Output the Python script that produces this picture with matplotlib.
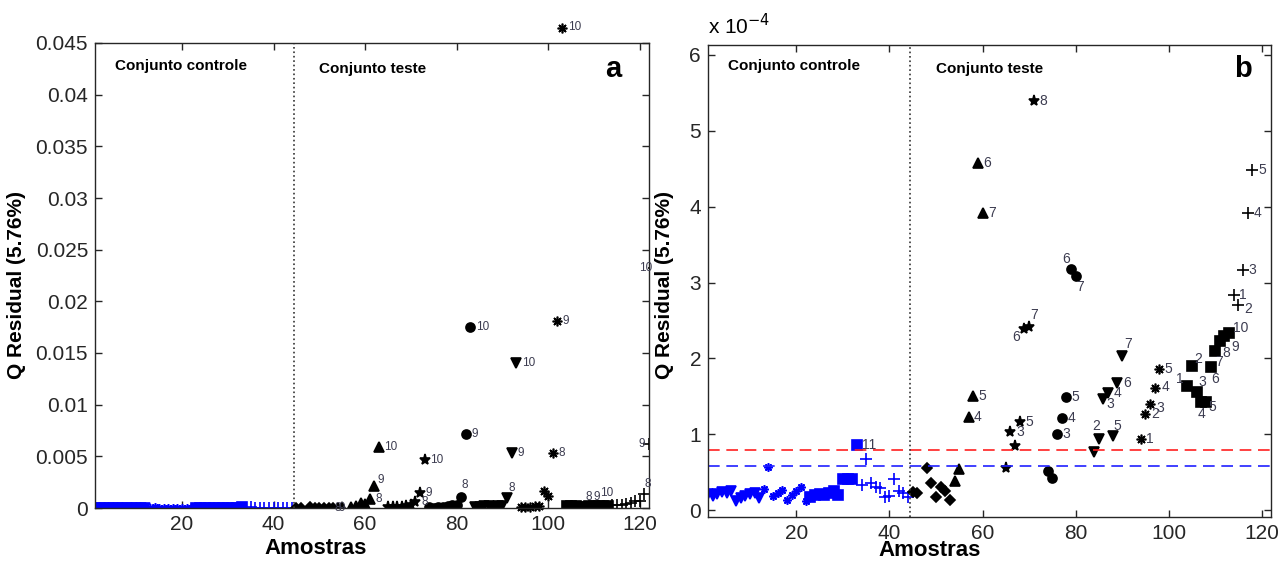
import numpy as np
import matplotlib.pyplot as plt

plt.rcParams['font.family'] = ['Liberation Sans', 'DejaVu Sans']

# Q residual values are kept in units of 1e-4
# conjunto controle (blue)
ctrl_tri_x = [1, 2, 3, 4, 5, 6, 7, 8, 9, 10, 11, 12]
ctrl_tri_q = [0.21, 0.19, 0.21, 0.24, 0.23, 0.25, 0.12, 0.16, 0.19, 0.21, 0.23, 0.16]
ctrl_ast_x = [13, 14, 15, 16, 17, 18, 19, 20, 21, 22]
ctrl_ast_q = [0.28, 0.57, 0.19, 0.23, 0.27, 0.14, 0.20, 0.25, 0.30, 0.12]
ctrl_sq_x = [23, 24, 25, 26, 27, 28, 29, 30, 31, 32, 33]
ctrl_sq_q = [0.18, 0.20, 0.21, 0.20, 0.23, 0.25, 0.20, 0.41, 0.41, 0.41, 0.86]
ctrl_plus_x = [34, 35, 36, 37, 38, 39, 40, 41, 42, 43, 44]
ctrl_plus_q = [0.33, 0.67, 0.36, 0.31, 0.29, 0.18, 0.19, 0.41, 0.25, 0.22, 0.17]

# conjunto teste (black)
dia_x = [45, 46, 48, 49, 50, 51, 52, 53]
dia_q = [0.24, 0.23, 0.55, 0.36, 0.17, 0.31, 0.25, 0.13]
tri_x = [54, 55, 57, 58, 59, 60, 61, 62, 63]
tri_q = [0.38, 0.54, 1.23, 1.50, 4.57, 3.91, 8.4, 21, 59]
star_x = [65, 66, 67, 68, 69, 70, 71, 72, 73]
star_q = [0.56, 1.03, 0.84, 1.16, 2.39, 2.42, 5.39, 14.5, 46]
circ_x = [74, 75, 76, 77, 78, 79, 80, 81, 82, 83]
circ_q = [0.52, 0.43, 1.00, 1.21, 1.49, 3.18, 3.09, 11, 72, 175]
tdn_x = [84, 85, 86, 87, 88, 89, 90, 91, 92, 93]
tdn_q = [0.77, 0.94, 1.47, 1.54, 0.98, 1.67, 2.03, 9.6, 53, 140]
ast_x = [94, 95, 96, 97, 98, 99, 100, 101, 102, 103]
ast_q = [0.94, 1.27, 1.40, 1.61, 1.86, 16, 12, 53, 181, 465]
sq_x = [104, 105, 106, 107, 108, 109, 110, 111, 112, 113]
sq_q = [1.63, 1.90, 1.56, 1.43, 1.43, 1.89, 2.10, 2.23, 2.29, 2.34]
plus_x = [114, 115, 116, 117, 118, 119, 120, 121, 122, 123]
plus_q = [2.83, 2.70, 3.16, 3.92, 4.48, 6.5, 7.2, 13.5, 62, 232]

lim_red = 0.79
lim_blue = 0.58
split_x = 44.5

BLUE = '#0000ff'
LBL = '#3c3c50'
AST = (8, 2, 0)

# name, x, q, first sample x, marker, size, colour, test set?
groups = [
    ('ctri', ctrl_tri_x, ctrl_tri_q, 1, 'v', 7, BLUE, False),
    ('cast', ctrl_ast_x, ctrl_ast_q, 13, AST, 6, BLUE, False),
    ('csq', ctrl_sq_x, ctrl_sq_q, 23, 's', 6.5, BLUE, False),
    ('cplus', ctrl_plus_x, ctrl_plus_q, 34, '+', 8, BLUE, False),
    ('dia', dia_x, dia_q, 45, 'D', 5.5, 'black', True),
    ('tri', tri_x, tri_q, 54, '^', 7, 'black', True),
    ('star', star_x, star_q, 64, '*', 8, 'black', True),
    ('circ', circ_x, circ_q, 74, 'o', 6.5, 'black', True),
    ('tdn', tdn_x, tdn_q, 84, 'v', 7, 'black', True),
    ('ast', ast_x, ast_q, 94, AST, 7, 'black', True),
    ('sq', sq_x, sq_q, 104, 's', 6.5, 'black', True),
    ('plus', plus_x, plus_q, 114, '+', 8, 'black', True),
]

# label offsets (points) that differ from "right of marker"
off_a = {
    ('tri', 9): (4.8, 4.3), ('circ', 8): (2.4, 8.4), ('tdn', 8): (3.6, 7.2),
    ('sq', 8): (-7.4, 6), ('sq', 9): (-4.8, 6.5), ('sq', 10): (-1, 8.9),
    ('plus', 8): (2.4, 7.2), ('plus', 9): (-5, 0), ('plus', 10): (-5.5, 0),
}
off_b = {
    ('star', 6): (-6.2, -5.8), ('star', 7): (3.6, 8.1),
    ('circ', 6): (-3.6, 7.2), ('circ', 7): (3.1, -8.1),
    ('tdn', 2): (-1.7, 9.1), ('tdn', 3): (4.8, -4.1), ('tdn', 5): (3.6, 7.2),
    ('tdn', 7): (4.3, 8.4),
    ('ast', 3): (7.5, -3), ('ast', 4): (7.5, 1), ('plus', 2): (7, -2.5),
    ('sq', 1): (-5.5, 5.3), ('sq', 2): (4.3, 5.3), ('sq', 3): (4.3, 7.2),
    ('sq', 4): (0, -8.9), ('sq', 5): (4.8, -3.6), ('sq', 6): (3.6, -8.9),
    ('sq', 7): (2.9, -7.9), ('sq', 8): (4.8, -8.4), ('sq', 9): (7.7, -7.7),
    ('sq', 10): (8, 3),
}

fig = plt.figure(figsize=(12.79, 5.67), dpi=100)
ax_a = fig.add_axes([95/1279, 1-508/567, (649-95)/1279, (508-43)/567])
ax_b = fig.add_axes([708/1279, 1-517/567, (1271-708)/1279, (517-45)/567])


def style(ax):
    ax.set_xlim(1, 122)
    ax.set_xticks([20, 40, 60, 80, 100, 120])
    ax.tick_params(direction='in', length=5, width=1, top=True, right=True,
                   labelsize=15, pad=5, colors='#262626')
    for s in ax.spines.values():
        s.set_linewidth(1)
        s.set_color('#262626')
    ax.axvline(split_x, color='#333333', ls=':', lw=1.2)


def label(ax, g, xi, yi, n, offs, fs):
    key = (g, n)
    if key in offs:
        dx, dy = offs[key]
        ha = 'center'
    else:
        dx, dy = 4, 0
        ha = 'left'
    ax.annotate(str(n), (xi, yi), xytext=(dx, dy), textcoords='offset points',
                ha=ha, va='center', fontsize=fs, color=LBL, annotation_clip=False)


# panel a: full scale
for g, x, q, first, m, ms, c, test in groups:
    y = np.array(q) * 1e-4
    ax_a.plot(x, y, ls='none', marker=m, ms=ms, color=c, mew=1.2,
              clip_on=(g != 'ast'))
    if test:
        for xi, yi in zip(x, y):
            n = xi - first + 1
            if n >= 8:
                label(ax_a, g, xi, yi, n, off_a, 8.5)

style(ax_a)
ax_a.set_ylim(0, 0.045)
ax_a.set_yticks(np.arange(0, 0.0451, 0.005))
ax_a.set_yticklabels(['0', '0.005', '0.01', '0.015', '0.02', '0.025', '0.03',
                      '0.035', '0.04', '0.045'])

# panel b: zoom near the limits
for g, x, q, first, m, ms, c, test in groups:
    ax_b.plot(x, q, ls='none', marker=m, ms=ms, color=c, mew=1.2)
    for xi, yi in zip(x, q):
        if 0.85 < yi < 6.1:
            label(ax_b, g, xi, yi, xi - first + 1, off_b, 10)

ax_b.axhline(lim_red, color='#ff2020', lw=1.2, dashes=(7, 4))
ax_b.axhline(lim_blue, color='#2020ff', lw=1.2, dashes=(7, 4))
style(ax_b)
ax_b.set_ylim(-0.09, 6.13)
ax_b.set_yticks(range(0, 7))
ax_b.text(0, 1.015, r'x 10$^{-4}$', transform=ax_b.transAxes, fontsize=15,
          va='bottom', ha='left')

for ax, letter, ya in ((ax_a, 'a', 0.945), (ax_b, 'b', 0.95)):
    ax.text(0.036, ya + 0.005, 'Conjunto controle', transform=ax.transAxes,
            fontsize=11, fontweight='bold', va='center')
    ax.text(0.405, ya, 'Conjunto teste', transform=ax.transAxes,
            fontsize=11, fontweight='bold', va='center')
    ax.text(0.95 if letter == 'b' else 0.935, ya, letter, transform=ax.transAxes,
            fontsize=21, fontweight='bold', va='center', ha='center')

fig.text(0.247, 1 - 548/567, 'Amostras', fontsize=16, fontweight='bold',
         ha='center', va='center')
fig.text(0.727, 1 - 551/567, 'Amostras', fontsize=16, fontweight='bold',
         ha='center', va='center')
fig.text(17/1279, 0.497, 'Q Residual (5.76%)', rotation=90, fontsize=15,
         fontweight='bold', ha='center', va='center')
fig.text(664/1279, 0.497, 'Q Residual (5.76%)', rotation=90, fontsize=15,
         fontweight='bold', ha='center', va='center')

fig.savefig('out.png', dpi=100)
